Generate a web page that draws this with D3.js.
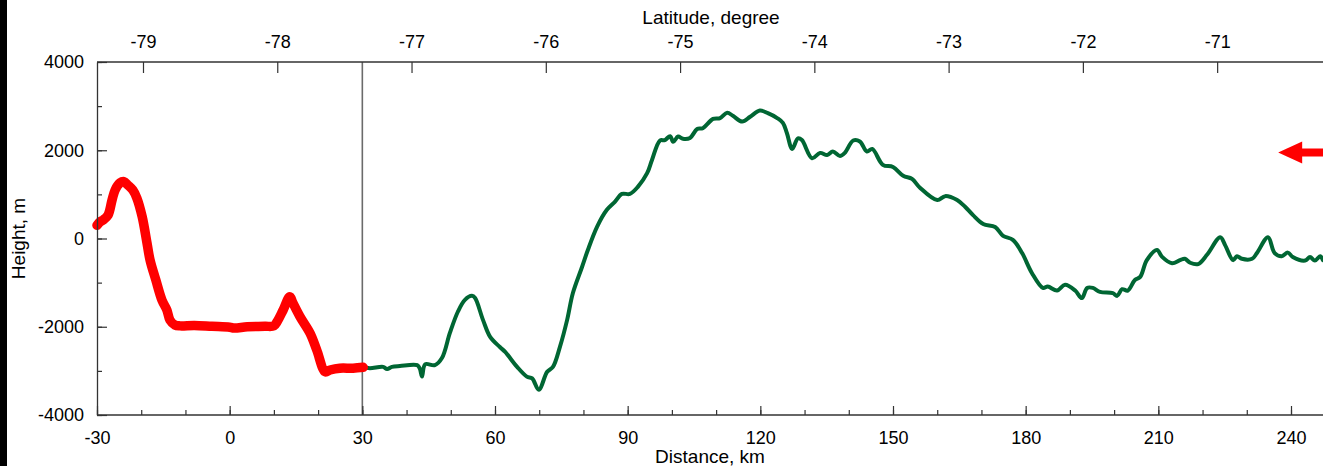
<!DOCTYPE html>
<html>
<head>
<meta charset="utf-8">
<script src="https://cdn.jsdelivr.net/npm/d3@7"></script>
<style>
  body { margin: 0; background: #fff; }
  svg { display: block; font-family: "Liberation Sans", Arial, sans-serif; }
</style>
</head>
<body>
<svg width="1323" height="466"></svg>
<script>
// profile distance (km) and height (m)
const distKm = [-30.0,-29.3,-28.6,-27.5,-26.6,-25.9,-24.8,-23.9,-23.0,-21.9,-21.0,-19.8,-18.7,-18.0,-16.7,-15.3,-14.2,-13.5,-12.4,-11.2,
  -8,-4,0,1,4,8,10,10.7,12.1,13.6,14.3,15.9,18.2,19.7,21.6,22.7,24.9,27.9,30.2,
  31.7,34.7,35.6,36.7,38.5,42.4,43.0,43.5,44.2,46.4,48.0,49.8,51.6,53.2,54.8,55.5,57.3,58.9,61.1,62.3,65.0,67.2,68.4,69.9,71.8,73.1,74.7,76.3,77.6,79.7,81.0,
  83.1,85.3,87.1,88.7,90.5,92.3,94.4,95.5,97.3,98.4,99.6,100.3,101.4,102.5,104.1,105.7,107.0,109.3,110.9,112.5,113.8,115.9,117.7,119.9,121.7,123.8,125.1,126.0,127.2,128.5,129.4,
  131.7,133.5,135.1,136.4,138.0,139.1,141.0,142.5,144.1,145.3,147.7,150.0,152.3,154.3,156.1,160.0,161.8,164.5,166.3,168.1,170.4,173.1,174.9,177.1,179.2,181.4,183.9,185.0,187.1,188.9,
  191.2,192.7,193.9,195.2,196.8,199.7,200.7,201.8,203.1,204.7,205.9,207.4,209.7,210.8,213.1,214.9,216.0,217.2,219.0,221.0,224.0,225.1,226.9,227.8,228.9,231.2,232.3,234.8,236.3,237.9,
  239.3,240.4,243.2,244.3,245.4,246.6,247.2];
const heightM = [300,380,420,530,870,1100,1260,1290,1210,1100,920,500,-100,-490,-940,-1400,-1620,-1850,-1960,-1980,
  -1970,-1990,-2010,-2030,-2000,-1990,-1980,-1890,-1620,-1320,-1460,-1770,-2150,-2530,-3020,-2980,-2940,-2940,-2920,
  -2940,-2910,-2960,-2910,-2890,-2870,-2950,-3130,-2850,-2870,-2710,-2140,-1660,-1390,-1300,-1350,-1850,-2230,-2460,-2570,-2910,-3130,-3170,-3430,-3020,-2910,-2450,-1850,-1240,-640,-260,
  270,650,830,1010,1010,1170,1480,1780,2220,2230,2320,2190,2310,2260,2280,2480,2500,2710,2730,2850,2780,2650,2760,2900,2840,2730,2620,2390,2030,2270,2230,
  1820,1940,1890,1970,1870,1940,2220,2200,1970,2030,1670,1620,1420,1350,1150,870,960,870,720,530,330,260,60,-30,-330,-780,-1120,-1090,-1180,-1050,
  -1180,-1350,-1120,-1120,-1210,-1240,-1300,-1150,-1180,-940,-870,-490,-260,-410,-560,-490,-460,-550,-580,-370,30,-150,-490,-400,-460,-460,-330,30,-330,-400,
  -320,-420,-500,-420,-500,-400,-490];
const redEndKm = 30.2;   // highlighted segment ends here
const markerKm = 30;     // vertical line
const arrowAt = [237.1, 1950];

const distTicks = [-30, 0, 30, 60, 90, 120, 150, 180, 210, 240];
const heightTicks = [-4000, -2000, 0, 2000, 4000];
const latTicks = [-79, -78, -77, -76, -75, -74, -73, -72, -71];
// latitude -79 and -71 sit at these distances
const latEnds = [-79, -71];
const latEndsKm = [-19.6, 223.3];

function Start(){
    const svg = d3.select('svg');
    const width = +svg.attr('width');
    const height = +svg.attr('height');
    const left = 97, right = width, top = 62, bottom = 415;
    const fontSize = 18;
    const titleSize = 19;
    const plain = d => String(d);

    svg.append('rect')
        .attr('x', 0).attr('y', 0)
        .attr('width', 7).attr('height', height)
        .attr('fill', 'black');

    const x = d3.scaleLinear().domain([-30, 240]).range([left, 1291]);
    const y = d3.scaleLinear().domain([-4000, 4000]).range([bottom, top]);
    const lat = d3.scaleLinear().domain(latEnds).range(latEndsKm.map(x));

    const profile = distKm.map((d, i) => ({ d: d, h: heightM[i] }));
    const line = d3.line()
        .curve(d3.curveCatmullRom.alpha(0.5))
        .x(p => x(p.d)).y(p => y(p.h));

    // marker line
    svg.append('line')
        .attr('x1', x(markerKm)).attr('x2', x(markerKm))
        .attr('y1', top).attr('y2', bottom)
        .attr('stroke', '#6b6b6b')
        .attr('stroke-width', 1.6);

    svg.append('path')
        .datum(profile)
        .attr('d', line)
        .attr('fill', 'none')
        .attr('stroke', '#006633')
        .attr('stroke-width', 4)
        .attr('stroke-linejoin', 'round')
        .attr('stroke-linecap', 'round');

    svg.append('path')
        .datum(profile.filter(p => p.d <= redEndKm))
        .attr('d', line)
        .attr('fill', 'none')
        .attr('stroke', '#ff0000')
        .attr('stroke-width', 9.5)
        .attr('stroke-linejoin', 'round')
        .attr('stroke-linecap', 'round');

    // arrow
    const ax = x(arrowAt[0]), ay = y(arrowAt[1]);
    svg.append('path')
        .attr('d', `M${ax},${ay} L${ax+24},${ay-11} L${ax+24},${ay-4} L${width},${ay-4} L${width},${ay+4} L${ax+24},${ay+4} L${ax+24},${ay+11} Z`)
        .attr('fill', '#ff0000');

    // axes
    const styleAxis = g => {
        g.selectAll('path.domain').attr('stroke', '#333').attr('stroke-width', 1.3);
        g.selectAll('.tick line').attr('stroke', '#333').attr('stroke-width', 1.2);
        g.selectAll('.tick text').attr('fill', '#000').attr('font-size', fontSize)
            .attr('font-family', '"Liberation Sans", Arial, sans-serif');
    };

    const xMinor = svg.append('g')
        .attr('transform', `translate(0,${bottom})`)
        .call(d3.axisBottom(x).tickValues(d3.range(-30, 250, 10)).tickSize(-5).tickFormat(''));
    xMinor.select('path.domain').remove();
    styleAxis(xMinor);

    const xAxis = svg.append('g')
        .attr('transform', `translate(0,${bottom})`)
        .call(d3.axisBottom(x).tickValues(distTicks).tickSizeInner(-9).tickSizeOuter(0).tickPadding(16).tickFormat(plain));
    xAxis.select('path.domain').attr('d', `M${left},0H${right}`);
    styleAxis(xAxis);

    const yMinor = svg.append('g')
        .attr('transform', `translate(${left},0)`)
        .call(d3.axisLeft(y).tickValues(d3.range(-4000, 4001, 1000)).tickSize(-5).tickFormat(''));
    yMinor.select('path.domain').remove();
    styleAxis(yMinor);

    const yAxis = svg.append('g')
        .attr('transform', `translate(${left},0)`)
        .call(d3.axisLeft(y).tickValues(heightTicks).tickSizeInner(-10).tickSizeOuter(0).tickPadding(13).tickFormat(plain));
    styleAxis(yAxis);

    const latAxis = svg.append('g')
        .attr('transform', `translate(0,${top})`)
        .call(d3.axisTop(lat).tickValues(latTicks).tickSizeInner(-11).tickSizeOuter(0).tickPadding(14).tickFormat(plain));
    latAxis.select('path.domain').attr('d', `M${left},0H${right}`);
    styleAxis(latAxis);

    // titles
    svg.append('text')
        .attr('x', 711).attr('y', 24)
        .attr('text-anchor', 'middle')
        .attr('font-size', titleSize)
        .text('Latitude, degree');

    svg.append('text')
        .attr('x', 710).attr('y', 463)
        .attr('text-anchor', 'middle')
        .attr('font-size', titleSize)
        .text('Distance, km');

    svg.append('text')
        .attr('transform', `translate(25,${(top + bottom) / 2}) rotate(-90)`)
        .attr('text-anchor', 'middle')
        .attr('font-size', titleSize)
        .text('Height, m');
}
Start();
</script>
</body>
</html>
